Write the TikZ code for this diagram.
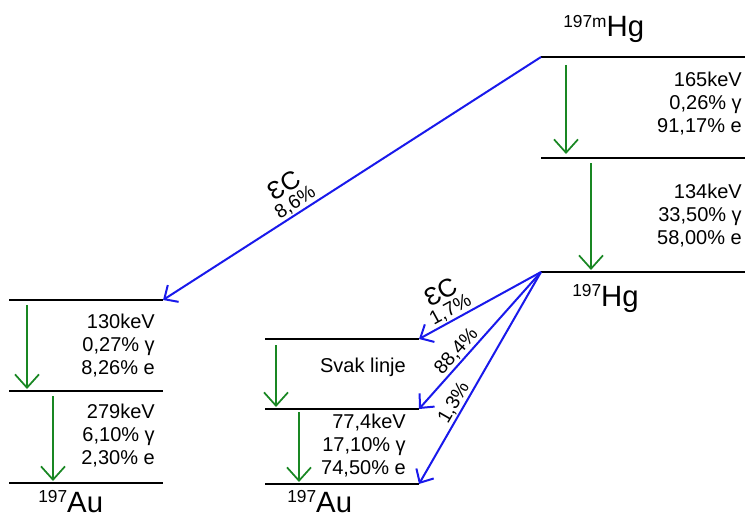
\documentclass[tikz,border=0pt]{standalone}
\usepackage{fontspec}
\setmainfont{Liberation Sans}
\usetikzlibrary{arrows.meta}
\definecolor{gamgreen}{RGB}{25,135,35}
\definecolor{ecblue}{RGB}{25,25,235}
\begin{document}
\begin{tikzpicture}[x=0.75pt,y=-0.75pt,
  lvl/.style={line width=1.5pt, black},
  gam/.style={line width=1.3pt, gamgreen, -{Straight Barb[length=10pt,width=18pt,line width=1.3pt]}},
  ecarr/.style={line width=1.5pt, ecblue, -{Straight Barb[length=8pt,width=15pt,line width=1.5pt]}},
  lab/.style={font=\fontsize{15}{17.25}\selectfont, align=right, inner sep=0pt, anchor=east},
  nuc/.style={font=\fontsize{22}{22}\selectfont, inner sep=0pt, anchor=base west},
  eclab/.style={font=\fontsize{14.5}{16}\selectfont, text=black, sloped, above, inner sep=1pt, align=center}]
\useasboundingbox (0,0) rectangle (745,517);
% level coordinates
\coordinate (m0w) at (541,57);  \coordinate (m0e) at (745,57);
\coordinate (m1w) at (541,158); \coordinate (m1e) at (745,158);
\coordinate (g0w) at (541,272); \coordinate (g0e) at (745,272);
\coordinate (a1w) at (9,300);   \coordinate (a1e) at (163,300);
\coordinate (a2w) at (9,391);   \coordinate (a2e) at (163,391);
\coordinate (a3w) at (9,483);   \coordinate (a3e) at (163,483);
\coordinate (b1w) at (265,339); \coordinate (b1e) at (419,339);
\coordinate (b2w) at (265,409); \coordinate (b2e) at (419,409);
\coordinate (b3w) at (265,484); \coordinate (b3e) at (419,484);
% levels
\draw[lvl] (m0w) -- (m0e);
\draw[lvl] (m1w) -- (m1e);
\draw[lvl] (g0w) -- (g0e);
\draw[lvl] (a1w) -- (a1e);
\draw[lvl] (a2w) -- (a2e);
\draw[lvl] (a3w) -- (a3e);
\draw[lvl] (b1w) -- (b1e);
\draw[lvl] (b2w) -- (b2e);
\draw[lvl] (b3w) -- (b3e);
% gamma transition coordinates
\coordinate (h1s) at (566,65);  \coordinate (h1t) at (566,154);
\coordinate (h2s) at (591,163); \coordinate (h2t) at (591,270);
\coordinate (l1s) at (27,305);  \coordinate (l1t) at (27,389);
\coordinate (l2s) at (53,396);  \coordinate (l2t) at (53,481);
\coordinate (c1s) at (276,345); \coordinate (c1t) at (276,407);
\coordinate (c2s) at (299,412); \coordinate (c2t) at (299,482);
\draw[gam] (h1s) -- (h1t);
\draw[gam] (h2s) -- (h2t);
\draw[gam] (l1s) -- (l1t);
\draw[gam] (l2s) -- (l2t);
\draw[gam] (c1s) -- (c1t);
\draw[gam] (c2s) -- (c2t);
% EC transitions
\draw[ecarr] (m0w) -- node[eclab, pos=0.635] {{\fontsize{19}{19}\selectfont ƐC}\\[-3pt]8,6\%} (a1e);
\draw[ecarr] (g0w) -- node[eclab, pos=0.7] {{\fontsize{19}{19}\selectfont ƐC}\\[-3pt]1,7\%} (b1e);
\draw[ecarr] (g0w) -- node[eclab, pos=0.63] {88,4\%} (b2e);
\draw[ecarr] (g0w) -- node[eclab, pos=0.64] {1,3\%} (b3e);
% labels
\node[lab] (t165) at (742,104) {165keV\\0,26\% γ\\91,17\% e};
\node[lab] (t134) at (742,216) {134keV\\33,50\% γ\\58,00\% e};
\node[lab] (t130) at (155,346) {130keV\\0,27\% γ\\8,26\% e};
\node[lab] (t279) at (155,436) {279keV\\6,10\% γ\\2,30\% e};
\node[lab] (tsv) at (406,367) {Svak linje};
\node[lab] (t77) at (406,446) {77,4keV\\17,10\% γ\\74,50\% e};
% nuclides
\node[nuc] (hgm) at (563,37) {\raisebox{7pt}{\fontsize{13}{13}\selectfont 197m}Hg};
\node[nuc] (hg) at (572,306) {\raisebox{7pt}{\fontsize{13}{13}\selectfont 197}Hg};
\node[nuc] (au1) at (38,512) {\raisebox{7pt}{\fontsize{13}{13}\selectfont 197}Au};
\node[nuc] (au2) at (287,512) {\raisebox{7pt}{\fontsize{13}{13}\selectfont 197}Au};
\end{tikzpicture}
\end{document}
